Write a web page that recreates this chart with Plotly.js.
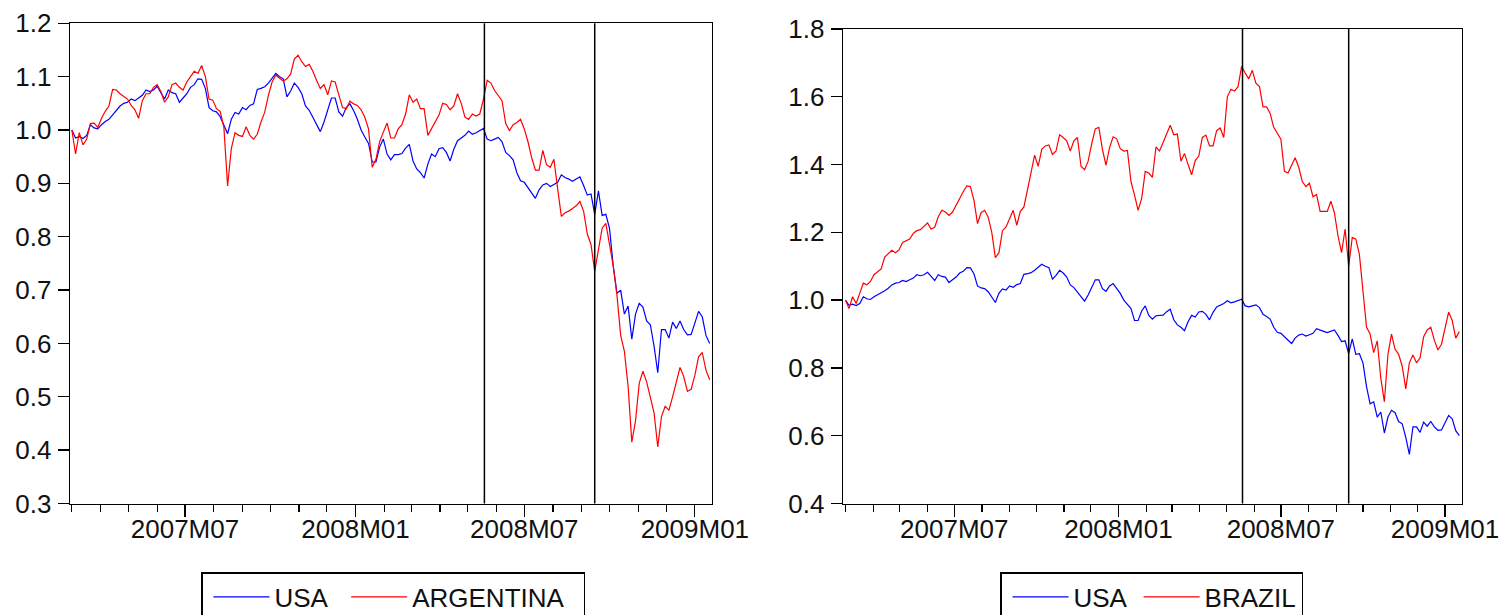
<!DOCTYPE html>
<html>
<head>
<meta charset="utf-8">
<script src="https://cdn.plot.ly/plotly-3.0.1.min.js"></script>
<style>html,body{margin:0;padding:0;background:#fff;}#chart{width:1505px;height:615px;}</style>
</head>
<body>
<div id="chart"></div>
<script>
// Observations every 4 calendar days starting 2007-03-01 (normalised index, start = 1.0)
const startDate = '2007-03-01';
const stepDays = 4;

const usa = [
1.000,0.985,0.988,0.984,0.990,1.010,1.004,1.002,1.010,1.016,
1.020,1.028,1.035,1.045,1.050,1.052,1.058,1.055,1.060,1.065,
1.075,1.072,1.075,1.082,1.070,1.058,1.075,1.070,1.068,1.052,
1.060,1.068,1.080,1.085,1.096,1.095,1.078,1.042,1.036,1.034,
1.025,1.010,0.993,1.020,1.033,1.030,1.042,1.038,1.046,1.049,
1.076,1.078,1.081,1.088,1.097,1.106,1.100,1.096,1.062,1.073,
1.088,1.080,1.068,1.045,1.037,1.023,1.011,0.997,1.015,1.040,
1.060,1.060,1.034,1.026,1.042,1.049,1.036,1.020,1.000,0.987,
0.975,0.940,0.940,0.968,0.983,0.955,0.944,0.954,0.954,0.956,
0.966,0.973,0.942,0.927,0.920,0.910,0.936,0.955,0.950,0.965,
0.967,0.958,0.942,0.964,0.980,0.985,0.990,0.998,0.992,0.995,
0.999,1.003,0.983,0.980,0.983,0.986,0.978,0.958,0.952,0.944,
0.920,0.905,0.902,0.892,0.880,0.872,0.888,0.897,0.900,0.894,
0.898,0.902,0.916,0.911,0.908,0.904,0.908,0.912,0.896,0.878,
0.880,0.842,0.886,0.840,0.842,0.815,0.745,0.694,0.700,0.655,
0.670,0.608,0.655,0.675,0.668,0.642,0.635,0.595,0.545,0.626,
0.626,0.610,0.640,0.628,0.642,0.626,0.616,0.617,0.638,0.660,
0.650,0.615,0.600
];

const argentina = [
1.000,0.955,0.995,0.972,0.983,1.012,1.013,1.005,1.022,1.035,
1.045,1.076,1.075,1.068,1.063,1.058,1.046,1.038,1.022,1.055,
1.068,1.068,1.080,1.085,1.072,1.052,1.062,1.085,1.088,1.080,
1.075,1.090,1.100,1.110,1.106,1.121,1.100,1.058,1.056,1.040,
1.035,1.005,0.895,0.965,0.995,0.990,0.988,1.006,0.990,0.983,
0.992,1.015,1.033,1.065,1.090,1.103,1.097,1.092,1.096,1.105,
1.133,1.140,1.128,1.119,1.123,1.110,1.093,1.078,1.085,1.066,
1.092,1.090,1.066,1.042,1.040,1.054,1.049,1.046,1.038,1.024,
1.002,0.930,0.945,0.978,0.996,1.013,0.985,0.985,1.002,1.010,
1.030,1.066,1.052,1.058,1.040,1.040,0.990,1.002,1.014,1.028,
1.050,1.048,1.038,1.045,1.068,1.050,1.024,1.020,1.030,1.026,
1.030,1.058,1.093,1.088,1.074,1.065,1.055,1.012,0.999,1.010,
1.014,1.020,1.002,0.978,0.948,0.925,0.925,0.962,0.935,0.930,
0.945,0.890,0.838,0.845,0.848,0.853,0.858,0.866,0.848,0.805,
0.785,0.735,0.775,0.816,0.825,0.782,0.745,0.690,0.615,0.585,
0.520,0.415,0.455,0.525,0.548,0.528,0.498,0.470,0.406,0.463,
0.482,0.475,0.500,0.528,0.555,0.538,0.510,0.514,0.540,0.575,
0.583,0.550,0.532
];

const brazil = [
1.000,0.975,1.010,0.990,1.020,1.050,1.045,1.055,1.075,1.085,
1.092,1.127,1.138,1.147,1.140,1.148,1.170,1.175,1.180,1.197,
1.205,1.208,1.218,1.228,1.210,1.215,1.246,1.265,1.260,1.250,
1.260,1.282,1.300,1.320,1.337,1.335,1.295,1.226,1.258,1.265,
1.245,1.200,1.125,1.140,1.205,1.216,1.240,1.265,1.221,1.262,
1.275,1.330,1.376,1.428,1.395,1.445,1.455,1.458,1.430,1.440,
1.488,1.480,1.470,1.440,1.470,1.480,1.395,1.385,1.410,1.462,
1.505,1.510,1.445,1.398,1.450,1.482,1.476,1.447,1.440,1.442,
1.350,1.310,1.265,1.300,1.380,1.375,1.362,1.452,1.440,1.465,
1.492,1.516,1.488,1.490,1.410,1.433,1.400,1.370,1.412,1.425,
1.480,1.487,1.455,1.455,1.500,1.508,1.480,1.600,1.622,1.617,
1.630,1.690,1.670,1.653,1.678,1.640,1.630,1.570,1.570,1.551,
1.510,1.492,1.475,1.380,1.375,1.398,1.420,1.392,1.350,1.335,
1.345,1.305,1.312,1.262,1.262,1.262,1.292,1.258,1.190,1.140,
1.210,1.100,1.185,1.180,1.135,1.035,0.920,0.900,0.845,0.880,
0.770,0.700,0.840,0.900,0.855,0.840,0.805,0.738,0.815,0.838,
0.815,0.830,0.892,0.912,0.920,0.882,0.853,0.870,0.920,0.965,
0.940,0.888,0.907
];

// Event dates marked by vertical lines
const eventDates = ['2008-05-19', '2008-09-15'];
const seriesNames = {usa: 'USA', left: 'ARGENTINA', right: 'BRAZIL'};

function buildDates(n) {
  const out = [];
  const t0 = Date.parse(startDate + 'T00:00:00Z');
  for (let i = 0; i < n; i++) {
    out.push(new Date(t0 + i * stepDays * 86400000).toISOString().slice(0, 10));
  }
  return out;
}
const dates = buildDates(usa.length);

const BLUE = '#0000ff', RED = '#ff0000';
const lw = 1.2;
const NB = '\u00a0';

const traces = [
  {x: dates, y: usa, name: seriesNames.usa + NB, type: 'scatter', mode: 'lines', line: {color: BLUE, width: lw}, xaxis: 'x', yaxis: 'y', legend: 'legend'},
  {x: dates, y: argentina, name: seriesNames.left + NB + NB, type: 'scatter', mode: 'lines', line: {color: RED, width: lw}, xaxis: 'x', yaxis: 'y', legend: 'legend'},
  {x: dates, y: usa, name: seriesNames.usa, type: 'scatter', mode: 'lines', line: {color: BLUE, width: lw}, xaxis: 'x2', yaxis: 'y2', legend: 'legend2'},
  {x: dates, y: brazil, name: seriesNames.right, type: 'scatter', mode: 'lines', line: {color: RED, width: lw}, xaxis: 'x2', yaxis: 'y2', legend: 'legend2'}
];

const W = 1505, H = 615;
const FONT = {family: 'Liberation Sans, Arial, sans-serif', size: 26, color: '#111'};

function xAxis(domain, range) {
  return {
    domain: domain, type: 'date', range: range,
    showline: true, mirror: true, linecolor: '#000', linewidth: 1.3,
    showgrid: false, zeroline: false,
    ticks: 'outside', ticklen: 12, tickwidth: 1.3, tickcolor: '#000',
    dtick: 'M6', tick0: '2007-01-01', tickformat: '%YM%m',
    minor: {dtick: 'M1', tick0: '2007-01-01', ticks: 'outside', ticklen: 7, tickwidth: 1.2, tickcolor: '#000', showgrid: false},
    tickfont: FONT, ticklabelstandoff: -10, fixedrange: true
  };
}
function yAxis(domain, range, dtick, anchor) {
  return {
    domain: domain, range: range, dtick: dtick, tick0: 0, tickformat: '.1f', anchor: anchor,
    showline: true, mirror: true, linecolor: '#000', linewidth: 1.3,
    showgrid: false, zeroline: false,
    ticks: 'outside', ticklen: 11, tickwidth: 1.3, tickcolor: '#000',
    tickfont: FONT, ticklabelstandoff: 1, fixedrange: true
  };
}

const shapes = [];
eventDates.forEach(d => {
  shapes.push({type: 'line', xref: 'x', yref: 'y domain', x0: d, x1: d, y0: 0, y1: 1, line: {color: '#000', width: 1.5}});
  shapes.push({type: 'line', xref: 'x2', yref: 'y2 domain', x0: d, x1: d, y0: 0, y1: 1, line: {color: '#000', width: 1.5}});
});

function legendBox(xpx, ypx) {
  return {
    x: xpx / W, y: 1 - ypx / H, xanchor: 'left', yanchor: 'top',
    orientation: 'h', bgcolor: '#fff', bordercolor: '#000', borderwidth: 1.5,
    font: FONT, itemwidth: 56, indentation: 6, traceorder: 'normal'
  };
}

const layout = {
  width: W, height: H, autosize: false,
  margin: {l: 0, r: 0, t: 0, b: 0, autoexpand: false},
  paper_bgcolor: '#fff', plot_bgcolor: '#fff',
  font: FONT,
  showlegend: true,
  xaxis: Object.assign(xAxis([70 / W, 712 / W], ['2007-02-27', '2009-01-19 12:00']), {anchor: 'y'}),
  yaxis: yAxis([1 - 503.5 / H, 1 - 23.3 / H], [0.3, 1.2], 0.1, 'x'),
  xaxis2: Object.assign(xAxis([843 / W, 1462 / W], ['2007-02-26 06:00', '2009-01-20']), {anchor: 'y2'}),
  yaxis2: yAxis([1 - 503.5 / H, 1 - 29 / H], [0.4, 1.8], 0.2, 'x2'),
  shapes: shapes,
  legend: legendBox(201, 572),
  legend2: legendBox(1000, 572)
};

Plotly.newPlot('chart', traces, layout, {displayModeBar: false, staticPlot: true});
</script>
</body>
</html>
